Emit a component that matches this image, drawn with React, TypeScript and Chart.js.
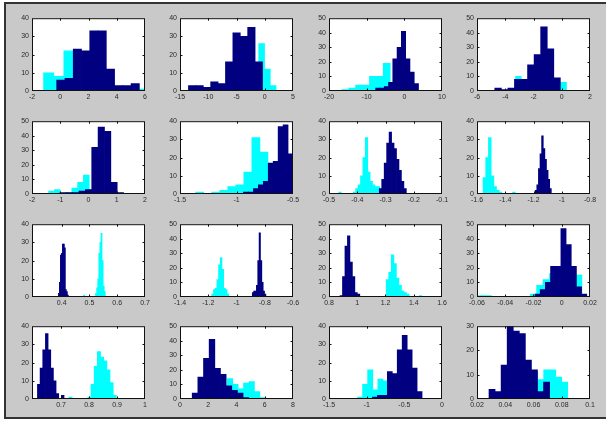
import React, { useEffect, useRef } from "react";
import { Chart, registerables } from "chart.js";

Chart.register(...registerables);

const NAVY = "#000080";
const CYAN = "#00ffff";

const Y30 = [0, 10, 20, 30];
const Y40 = [0, 10, 20, 30, 40];
const Y50 = [0, 10, 20, 30, 40, 50];

// Bins are given as [first edge, bin width]; counts per bin follow.
// Row 1
const p1XRange = [-2, 6];
const p1XTicks = [-2, 0, 2, 4, 6];
const p1NavyBins = [-0.25, 0.585];
const p1Navy = [6, 7, 23, 22, 33, 33, 12, 3, 3, 4];
const p1CyanBins = [-1.18, 0.718];
const p1Cyan = [10, 8, 22, 15, 12, 8, 5, 2, 1, 1];

const p2XRange = [-15, 5];
const p2XTicks = [-15, -10, -5, 0, 5];
const p2NavyBins = [-13.5, 1.31];
const p2Navy = [3, 3, 2, 5, 4, 16, 32, 30, 35, 16];
const p2CyanBins = [-8.2, 1.02];
const p2Cyan = [2, 3, 5, 10, 15, 20, 14, 26, 12, 3];

const p3XRange = [-20, 10];
const p3XTicks = [-20, -10, 0, 10];
const p3NavyBins = [-7.61, 1.137];
const p3Navy = [2, 2, 3, 6, 22, 30, 41, 22, 13, 5];
const p3CyanBins = [-16.6, 1.835];
const p3Cyan = [1, 2, 4, 4, 10, 10, 19, 5, 3, 1];

const p4XRange = [-6, 2];
const p4XTicks = [-6, -4, -2, 0, 2];
const p4NavyBins = [-4.74, 0.464];
const p4Navy = [2, 1, 2, 8, 8, 18, 25, 44, 29, 9];
const p4CyanBins = [-3.67, 0.4];
const p4Cyan = [1, 10, 7, 8, 15, 20, 25, 8, 5, 6];

// Row 2
const p5XRange = [-2, 2];
const p5XTicks = [-2, -1, 0, 1, 2];
const p5NavyBins = [-1.01, 0.225];
const p5Navy = [1, 1, 1, 2, 3, 32, 46, 43, 8, 1];
const p5CyanBins = [-1.41, 0.205];
const p5Cyan = [2, 3, 0, 1, 4, 8, 13, 3, 1, 0];

const p6XRange = [-1.5, -0.5];
const p6XTicks = [-1.5, -1, -0.5];
const p6NavyBins = [-0.938, 0.0438];
const p6Navy = [1, 1, 3, 5, 7, 17, 18, 37, 38, 22];
const p6CyanBins = [-1.361, 0.071];
const p6Cyan = [1, 0, 1, 2, 4, 5, 12, 31, 23, 15];

const p7XRange = [-0.5, -0.1];
const p7XTicks = [-0.5, -0.4, -0.3, -0.2, -0.1];
const p7NavyBins = [-0.322, 0.0087];
const p7Navy = [3, 8, 17, 28, 34, 28, 25, 19, 13, 7, 3];
const p7CyanBins = [-0.465, 0.0085];
const p7Cyan = [1, 0, 0, 0, 0, 0, 1, 3, 5, 10, 20, 31, 12, 7, 5, 4, 4, 2, 1];

const p8XRange = [-1.6, -0.8];
const p8XTicks = [-1.6, -1.4, -1.2, -1, -0.8];
const p8NavyBins = [-1.188, 0.0114];
const p8Navy = [2, 5, 14, 22, 32, 25, 19, 13, 8, 3];
const p8CyanBins = [-1.557, 0.019];
const p8Cyan = [9, 20, 31, 10, 4, 2, 1, 0, 0, 0, 0, 1];

// Row 3
const p9XRange = [0.293, 0.7];
const p9XTicks = [0.4, 0.5, 0.6, 0.7];
const p9NavyBins = [0.388, 0.0036];
const p9Navy = [2, 8, 23, 24, 29, 29, 27, 4, 3, 1];
const p9CyanBins = [0.479, 0.0039];
const p9Cyan = [1, 0, 0, 0, 0, 0, 0, 0, 0, 0, 0, 2, 5, 10, 24, 30, 35, 20, 6, 3];

const p10XRange = [-1.4, -0.6];
const p10XTicks = [-1.4, -1.2, -1, -0.8, -0.6];
const p10NavyBins = [-0.888, 0.0096];
const p10Navy = [3, 4, 4, 8, 25, 44, 25, 10, 4, 2];
const p10CyanBins = [-1.175, 0.012];
const p10Cyan = [2, 5, 6, 12, 22, 27, 19, 6, 5, 2];

const p11XRange = [0.8, 1.6];
const p11XTicks = [0.8, 1, 1.2, 1.4, 1.6];
const p11NavyBins = [0.878, 0.0175];
const p11Navy = [1, 14, 35, 42, 24, 14, 3, 2];
const p11CyanBins = [1.205, 0.018];
const p11Cyan = [12, 17, 29, 23, 13, 8, 4, 3, 2, 0, 0, 0, 0, 1];

const p12XRange = [-0.06, 0.02];
const p12XTicks = [-0.06, -0.04, -0.02, 0, 0.02];
const p12NavyBins = [-0.0189, 0.00366];
const p12Navy = [2, 5, 10, 21, 21, 47, 36, 21, 7, 2];
const p12CyanBins = [-0.0589, 0.00457];
const p12Cyan = [1, 1, 0, 0, 0, 0, 0, 0, 2, 8, 12, 16, 20, 25, 20, 15];

// Row 4
const p13XRange = [0.596, 1];
const p13XTicks = [0.7, 0.8, 0.9, 1];
const p13NavyBins = [0.6155, 0.0095];
const p13Navy = [8, 17, 27, 36, 27, 17, 10, 3, 0, 2];
const p13CyanBins = [0.728, 0.0113];
const p13Cyan = [1, 0, 0, 0, 0, 0, 1, 8, 18, 26, 23, 21, 16, 9, 2];

const p14XRange = [0, 8];
const p14XTicks = [0, 2, 4, 6, 8];
const p14NavyBins = [0.865, 0.4];
const p14Navy = [4, 15, 28, 41, 21, 17, 9, 6, 4, 1];
const p14CyanBins = [0.649, 0.385];
const p14Cyan = [0, 3, 8, 10, 12, 12, 9, 14, 10, 7, 11, 12, 5, 1];

const p15XRange = [-1.5, 0];
const p15XTicks = [-1.5, -1, -0.5, 0];
const p15NavyBins = [-0.923, 0.0658];
const p15Navy = [1, 2, 2, 15, 14, 27, 35, 27, 17, 4];
const p15CyanBins = [-1.122, 0.0676];
const p15Cyan = [1, 8, 16, 5, 11, 10, 10, 8, 6, 4, 2, 1];

const p16XRange = [0.02, 0.1];
const p16XTicks = [0.02, 0.04, 0.06, 0.08, 0.1];
const p16NavyBins = [0.0285, 0.00429];
const p16Navy = [4, 3, 14, 30, 28, 27, 16, 12, 3, 7];
const p16CyanBins = [0.0418, 0.00424];
const p16Cyan = [2, 5, 8, 10, 11, 8, 12, 12, 9, 7];

type PanelSpec = {
  xr: number[]; xt: number[]; yt: number[];
  nb: number[]; n: number[]; cb: number[]; c: number[];
};

const PANELS: PanelSpec[] = [
  { xr: p1XRange, xt: p1XTicks, yt: Y40, nb: p1NavyBins, n: p1Navy, cb: p1CyanBins, c: p1Cyan },
  { xr: p2XRange, xt: p2XTicks, yt: Y40, nb: p2NavyBins, n: p2Navy, cb: p2CyanBins, c: p2Cyan },
  { xr: p3XRange, xt: p3XTicks, yt: Y50, nb: p3NavyBins, n: p3Navy, cb: p3CyanBins, c: p3Cyan },
  { xr: p4XRange, xt: p4XTicks, yt: Y50, nb: p4NavyBins, n: p4Navy, cb: p4CyanBins, c: p4Cyan },
  { xr: p5XRange, xt: p5XTicks, yt: Y50, nb: p5NavyBins, n: p5Navy, cb: p5CyanBins, c: p5Cyan },
  { xr: p6XRange, xt: p6XTicks, yt: Y40, nb: p6NavyBins, n: p6Navy, cb: p6CyanBins, c: p6Cyan },
  { xr: p7XRange, xt: p7XTicks, yt: Y40, nb: p7NavyBins, n: p7Navy, cb: p7CyanBins, c: p7Cyan },
  { xr: p8XRange, xt: p8XTicks, yt: Y40, nb: p8NavyBins, n: p8Navy, cb: p8CyanBins, c: p8Cyan },
  { xr: p9XRange, xt: p9XTicks, yt: Y40, nb: p9NavyBins, n: p9Navy, cb: p9CyanBins, c: p9Cyan },
  { xr: p10XRange, xt: p10XTicks, yt: Y50, nb: p10NavyBins, n: p10Navy, cb: p10CyanBins, c: p10Cyan },
  { xr: p11XRange, xt: p11XTicks, yt: Y50, nb: p11NavyBins, n: p11Navy, cb: p11CyanBins, c: p11Cyan },
  { xr: p12XRange, xt: p12XTicks, yt: Y50, nb: p12NavyBins, n: p12Navy, cb: p12CyanBins, c: p12Cyan },
  { xr: p13XRange, xt: p13XTicks, yt: Y40, nb: p13NavyBins, n: p13Navy, cb: p13CyanBins, c: p13Cyan },
  { xr: p14XRange, xt: p14XTicks, yt: Y50, nb: p14NavyBins, n: p14Navy, cb: p14CyanBins, c: p14Cyan },
  { xr: p15XRange, xt: p15XTicks, yt: Y40, nb: p15NavyBins, n: p15Navy, cb: p15CyanBins, c: p15Cyan },
  { xr: p16XRange, xt: p16XTicks, yt: Y30, nb: p16NavyBins, n: p16Navy, cb: p16CyanBins, c: p16Cyan },
];

// Layout (page pixels)
const COL_LEFT = [32, 180, 329, 477];
const ROW_TOP = [17, 120, 223, 325];
const PLOT_W = 113;
const PLOT_H = 74;
const PAD_L = 30;
const PAD_T = 6;
const PAD_R = 12;
const PAD_B = 14;

const FONT = { family: "'Liberation Sans', Arial, Helvetica, sans-serif", size: 7 };
const LABEL_COLOR = "#2a2a2a";

const framePlugin = {
  id: "matlabFrame",
  beforeDatasetsDraw(chart: any) {
    const { ctx, chartArea: a } = chart;
    ctx.save();
    ctx.fillStyle = "#ffffff";
    ctx.fillRect(a.left, a.top, a.right - a.left, a.bottom - a.top);
    ctx.restore();
  },
  afterDatasetsDraw(chart: any) {
    const { ctx, chartArea: a, scales } = chart;
    const tl = 2.5;
    ctx.save();
    ctx.strokeStyle = "#111";
    ctx.lineWidth = 1;
    ctx.beginPath();
    scales.x.ticks.forEach((t: any) => {
      const px = Math.round(scales.x.getPixelForValue(t.value)) + 0.5;
      if (px <= a.left + 1 || px >= a.right - 1) return;
      ctx.moveTo(px, a.bottom);
      ctx.lineTo(px, a.bottom - tl);
      ctx.moveTo(px, a.top);
      ctx.lineTo(px, a.top + tl);
    });
    scales.y.ticks.forEach((t: any) => {
      const py = Math.round(scales.y.getPixelForValue(t.value)) + 0.5;
      if (py <= a.top + 1 || py >= a.bottom - 1) return;
      ctx.moveTo(a.left, py);
      ctx.lineTo(a.left + tl, py);
      ctx.moveTo(a.right, py);
      ctx.lineTo(a.right - tl, py);
    });
    ctx.stroke();
    ctx.strokeRect(a.left + 0.5, a.top + 0.5, a.right - a.left - 1, a.bottom - a.top - 1);
    ctx.restore();
  },
};

function binPoints(bins: number[], counts: number[]) {
  return counts.map((c, i) => ({ x: bins[0] + (i + 0.5) * bins[1], y: c }));
}

function fixTicks(values: number[]) {
  return (scale: any) => {
    scale.ticks = values.map((v) => ({ value: v }));
  };
}

function Panel({ spec, left, top }: { spec: PanelSpec; left: number; top: number }) {
  const ref = useRef<HTMLCanvasElement>(null);
  useEffect(() => {
    if (!ref.current) return;
    const yMax = spec.yt[spec.yt.length - 1];
    const span = spec.xr[1] - spec.xr[0];
    // bar thickness in pixels = bin width mapped through the plot width
    const thick = (binW: number) => (binW / span) * PLOT_W;
    const barCommon = { borderWidth: 0, grouped: false, inflateAmount: 0.35 };
    const chart = new Chart(ref.current, {
      type: "bar",
      data: {
        datasets: [
          { ...barCommon, label: "navy", data: binPoints(spec.nb, spec.n), barThickness: thick(spec.nb[1]), xAxisID: "x", yAxisID: "y", backgroundColor: NAVY, order: 0 },
          { ...barCommon, label: "cyan", data: binPoints(spec.cb, spec.c), barThickness: thick(spec.cb[1]), xAxisID: "x2", yAxisID: "y", backgroundColor: CYAN, order: 1 },
        ],
      } as any,
      options: {
        animation: false,
        responsive: false,
        devicePixelRatio: 1,
        events: [],
        layout: { padding: { left: 0, top: PAD_T, right: PAD_R, bottom: 0 } },
        plugins: { legend: { display: false }, tooltip: { enabled: false } },
        scales: {
          x: {
            type: "linear",
            position: "bottom",
            min: spec.xr[0],
            max: spec.xr[1],
            offset: false,
            grid: { display: false, drawTicks: false },
            border: { display: false },
            ticks: { padding: 2, font: FONT, color: LABEL_COLOR, autoSkip: false, maxRotation: 0, callback: (v: any) => String(v) },
            afterBuildTicks: fixTicks(spec.xt),
            afterFit: (s: any) => { s.height = PAD_B; },
          },
          x2: {
            type: "linear",
            display: false,
            min: spec.xr[0],
            max: spec.xr[1],
            offset: false,
            afterBuildTicks: fixTicks(spec.xt),
          },
          y: {
            type: "linear",
            min: 0,
            max: yMax,
            grid: { display: false, drawTicks: false },
            border: { display: false },
            ticks: { padding: 3, font: FONT, color: LABEL_COLOR, autoSkip: false, callback: (v: any) => String(v) },
            afterBuildTicks: fixTicks(spec.yt),
            afterFit: (s: any) => { s.width = PAD_L; },
          },
        },
      } as any,
      plugins: [framePlugin],
    });
    return () => chart.destroy();
  }, [spec]);

  const w = PAD_L + PLOT_W + PAD_R;
  const h = PAD_T + PLOT_H + PAD_B;
  return (
    <canvas
      ref={ref}
      width={w}
      height={h}
      style={{ position: "absolute", left: left - PAD_L, top: top - PAD_T, width: w, height: h }}
    />
  );
}

export default function App() {
  return (
    <div style={{ position: "fixed", left: 0, top: 0, width: 606, height: 421, background: "#ffffff", overflow: "hidden" }}>
      <div
        style={{
          position: "absolute",
          left: 4,
          top: 2,
          width: 606,
          height: 417,
          boxSizing: "border-box",
          background: "#c9c9c9",
          borderLeft: "2px solid #333",
          borderTop: "2px solid #333",
          borderBottom: "2px solid #333",
        }}
      />
      {PANELS.map((spec, i) => (
        <Panel key={i} spec={spec} left={COL_LEFT[i % 4]} top={ROW_TOP[Math.floor(i / 4)]} />
      ))}
    </div>
  );
}
